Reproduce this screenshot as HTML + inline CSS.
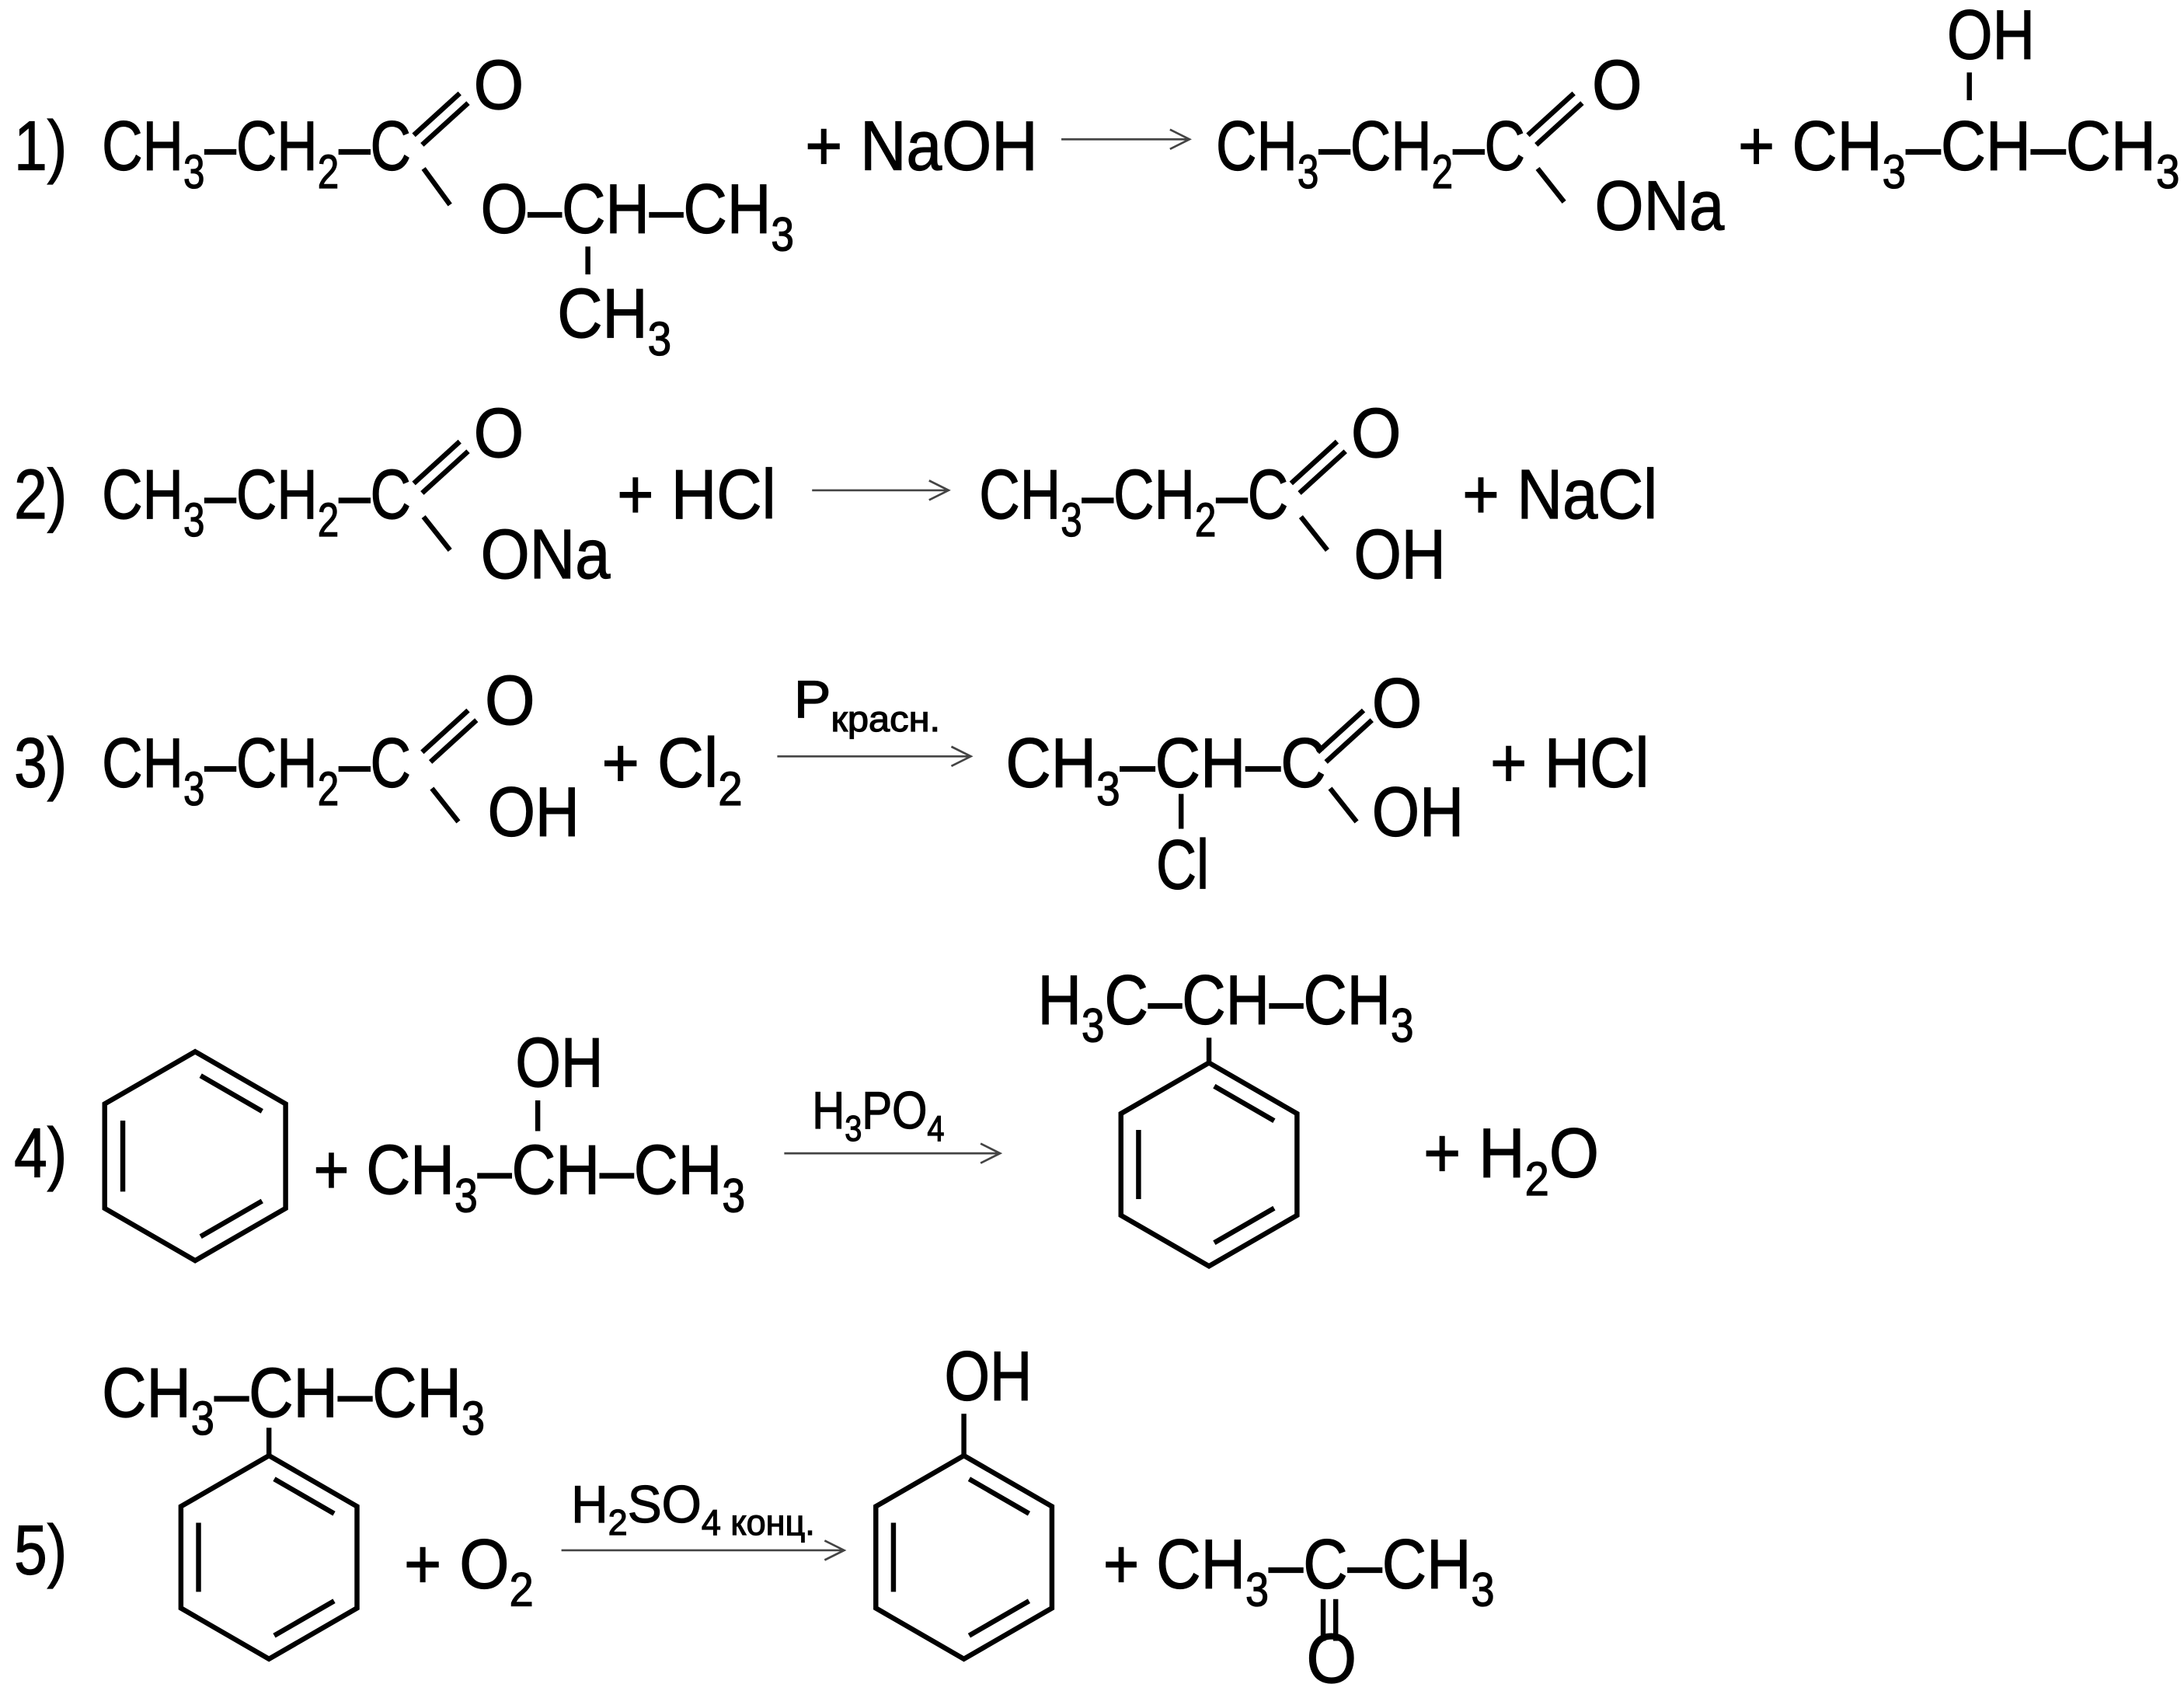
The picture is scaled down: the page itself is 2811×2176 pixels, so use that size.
<!DOCTYPE html>
<html><head><meta charset="utf-8"><style>
html,body{margin:0;padding:0;background:#fff;}
svg{display:block;}
text{font-family:"Liberation Sans","DejaVu Sans",sans-serif;fill:#000;stroke:#000;stroke-width:0.7;}
</style></head><body>
<svg id="s" width="2811" height="2176" viewBox="0 0 1568 1214" xmlns="http://www.w3.org/2000/svg">
<rect width="1568" height="1214" fill="#fff"/>
<g id="b" stroke="#000" stroke-width="3.6" fill="none" stroke-linecap="butt">
<line x1="297" y1="97" x2="330" y2="67"/><line x1="303" y1="104" x2="336" y2="74"/>
<line x1="304" y1="121" x2="323" y2="147"/>
<line x1="422" y1="177" x2="422" y2="197"/>
<line x1="1097" y1="97" x2="1130" y2="67"/><line x1="1103" y1="104" x2="1136" y2="74"/>
<line x1="1104" y1="121" x2="1123" y2="145"/>
<line x1="1414" y1="52" x2="1414" y2="72"/>
<line x1="297" y1="347" x2="330" y2="317"/><line x1="303" y1="354" x2="336" y2="324"/>
<line x1="304" y1="371" x2="323" y2="395"/>
<line x1="927" y1="347" x2="960" y2="317"/><line x1="933" y1="354" x2="966" y2="324"/>
<line x1="934" y1="371" x2="953" y2="395"/>
<line x1="303" y1="540" x2="336" y2="510"/><line x1="309" y1="547" x2="342" y2="517"/>
<line x1="310" y1="566" x2="329" y2="590"/>
<line x1="946" y1="540" x2="979" y2="510"/><line x1="952" y1="547" x2="985" y2="517"/>
<line x1="955" y1="566" x2="974" y2="590"/>
<line x1="848" y1="570" x2="848" y2="595"/>
<line x1="386" y1="790" x2="386" y2="812"/>
<line x1="868" y1="745" x2="868" y2="762"/>
<line x1="193" y1="1025" x2="193" y2="1045"/>
<line x1="692" y1="1015" x2="692" y2="1045"/>
<line x1="950" y1="1148" x2="950" y2="1178"/><line x1="959" y1="1148" x2="959" y2="1178"/>
</g>
<g stroke="#444" stroke-width="1.5" fill="none">
<path d="M762 100H853M840 93L854 100L840 107"/>
<path d="M583 352H680M667 345L681 352L667 359"/>
<path d="M558 543H696M683 536L697 543L683 550"/>
<path d="M563 828H717M704 821L718 828L704 835"/>
<path d="M403 1113H605M592 1106L606 1113L592 1120"/>
</g>
<g id="t"></g>
</svg>
<script>
var NS="http://www.w3.org/2000/svg",s=document.getElementById('s'),T=document.getElementById('t'),B=document.getElementById('b');
function f(x,y,str,len,size,sub,dy){
 size=size||50;sub=sub||Math.round(size*0.68);dy=dy||Math.round(size*0.25);
 var t=document.createElementNS(NS,'text');t.setAttribute('x',x);t.setAttribute('y',y);t.setAttribute('font-size',size);
 if(size<45)t.setAttribute('stroke-width','0.3');
 var parts=str.split(/(_[^_]+_)/);var low=false;
 parts.forEach(function(p){if(!p)return;var sp=document.createElementNS(NS,'tspan');
  if(p[0]=='_'){sp.textContent=p.slice(1,-1);sp.setAttribute('font-size',sub);if(!low){sp.setAttribute('dy',dy);low=true;}}
  else{sp.textContent=p;if(low){sp.setAttribute('dy',-dy);low=false;}}
  t.appendChild(sp);});
 if(len){t.setAttribute('textLength',len);t.setAttribute('lengthAdjust','spacingAndGlyphs');}
 T.appendChild(t);}
function hex(cx,cy,R){var v=[];for(var i=0;i<6;i++){var a=(-90+60*i)*Math.PI/180;v.push([cx+R*Math.cos(a),cy+R*Math.sin(a)]);}
 var p=document.createElementNS(NS,'polygon');p.setAttribute('points',v.map(function(q){return q.join(',')}).join(' '));B.appendChild(p);
 [[0,1],[2,3],[4,5]].forEach(function(e){var A=v[e[0]],C=v[e[1]];
  function ins(P){return [cx+0.8*(P[0]-cx),cy+0.8*(P[1]-cy)];}
  var a=ins(A),c=ins(C),mx=(a[0]+c[0])/2,my=(a[1]+c[1])/2,k=0.85;
  var l=document.createElementNS(NS,'line');l.setAttribute('x1',mx+k*(a[0]-mx));l.setAttribute('y1',my+k*(a[1]-my));l.setAttribute('x2',mx+k*(c[0]-mx));l.setAttribute('y2',my+k*(c[1]-my));B.appendChild(l);});}
f(10,122,"1)",38);
f(73,122,"CH_3_–CH_2_–C",222);
f(340,78,"O",36);
f(345,167,"O–CH–CH_3_",225);
f(400,242,"CH_3_",82);
f(578,122,"+ NaOH",167);
f(873,122,"CH_3_–CH_2_–C",222);
f(1143,78,"O",36);
f(1145,165,"ONa",93);
f(1248,122,"+ CH_3_–CH–CH_3_",317);
f(1398,42,"OH",63);
f(10,372,"2)",38);
f(73,372,"CH_3_–CH_2_–C",222);
f(340,328,"O",36);
f(345,415,"ONa",93);
f(443,372,"+ HCl",114);
f(703,372,"CH_3_–CH_2_–C",222);
f(970,328,"O",36);
f(972,415,"OH",66);
f(1050,372,"+ NaCl",140);
f(10,565,"3)",38);
f(73,565,"CH_3_–CH_2_–C",222);
f(348,520,"O",36);
f(350,600,"OH",66);
f(432,565,"+ Cl_2_",101);
f(570,515,"P_красн._",105,38,26,10);
f(722,565,"CH_3_–CH–C",230);
f(985,522,"O",36);
f(985,600,"OH",66);
f(830,638,"Cl",38);
f(1070,565,"+ HCl",114);
f(10,845,"4)",38);
hex(140,830,75);
f(225,857,"+ CH_3_–CH–CH_3_",310);
f(370,780,"OH",63);
f(583,810,"H_3_PO_4_",95,38,26,9);
f(745,735,"H_3_C–CH–CH_3_",270);
hex(868,836,73);
f(1022,845,"+ H_2_O",126);
f(73,1017,"CH_3_–CH–CH_3_",275);
hex(193,1118,73);
f(10,1130,"5)",38);
f(290,1140,"+ O_2_",93);
f(410,1093,"H_2_SO_4 конц._",175,38,26,9);
f(678,1005,"OH",63);
hex(692,1118,73);
f(792,1140,"+ CH_3_–C–CH_3_",281);
f(938,1208,"O",36);
</script>
</body></html>
